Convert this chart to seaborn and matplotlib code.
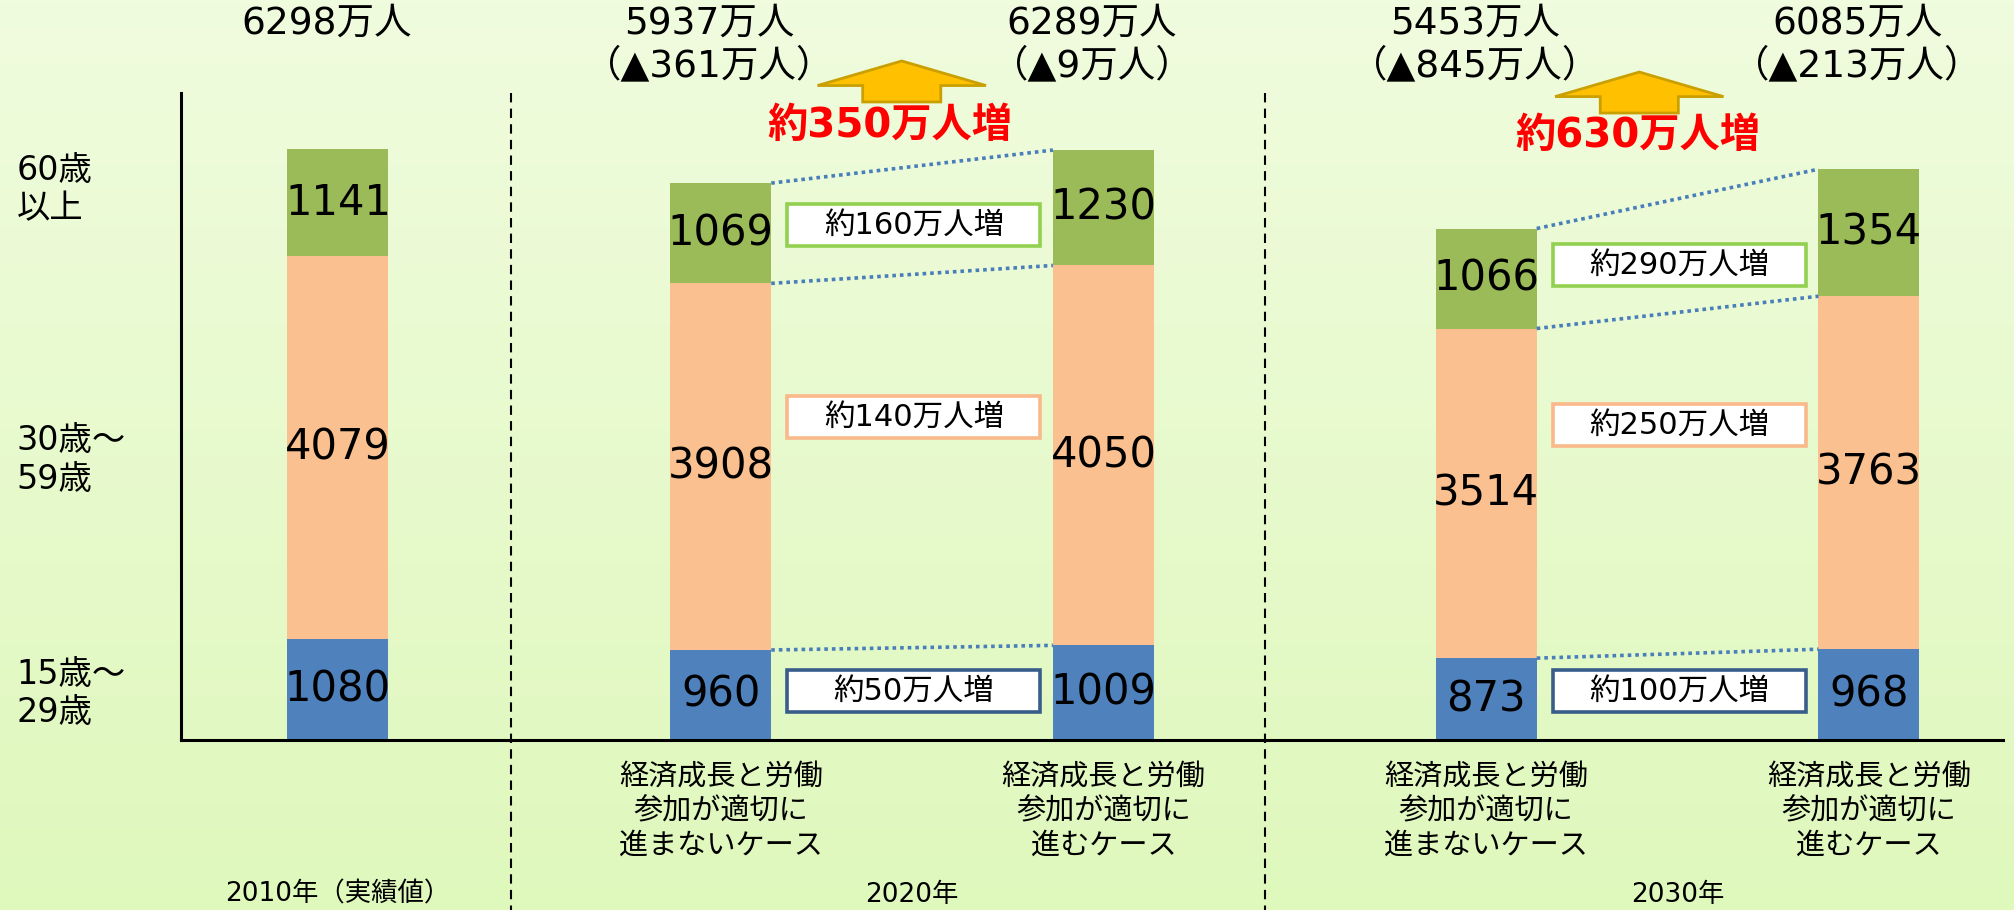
import numpy as np
import pandas as pd
import matplotlib.pyplot as plt
import seaborn as sns
from matplotlib.patches import Rectangle, Polygon
from matplotlib.colors import LinearSegmentedColormap

# labour force by age group (万人), 2010 actual and 2020/2030 scenarios
young = [1080, 960, 1009, 873, 968]       # 15-29
middle = [4079, 3908, 4050, 3514, 3763]   # 30-59
senior = [1141, 1069, 1230, 1066, 1354]   # 60+
totals = ['6298万人', '5937万人', '6289万人', '5453万人', '6085万人']
declines = ['', '（▲361万人）', '（▲9万人）', '（▲845万人）', '（▲213万人）']
case_names = ['',
              '経済成長と労働\n参加が適切に\n進まないケース',
              '経済成長と労働\n参加が適切に\n進むケース',
              '経済成長と労働\n参加が適切に\n進まないケース',
              '経済成長と労働\n参加が適切に\n進むケース']
age_names = ['60歳\n以上', '30歳～\n59歳', '15歳～\n29歳']
year_names = ['2010年（実績値）', '2020年', '2030年']
gain_total = ['約350万人増', '約630万人増']
gain_senior = ['約160万人増', '約290万人増']
gain_middle = ['約140万人増', '約250万人増']
gain_young = ['約50万人増', '約100万人増']

sns.set_style('white')
plt.rcParams['font.family'] = ['DejaVu Sans', 'Noto Sans CJK JP']
plt.rcParams['text.color'] = 'black'

df = pd.DataFrame({'pos': range(5), 'young': young, 'middle': middle, 'senior': senior})
df['mid_top'] = df['young'] + df['middle']
df['top'] = df['mid_top'] + df['senior']

GREEN, ORANGE, BLUE = '#9BBB59', '#FAC090', '#4F81BD'
bw = 0.264

fig = plt.figure(figsize=(20.14, 9.10), dpi=100)

# pale green gradient background
bg = fig.add_axes([0, 0, 1, 1], zorder=-1)
grad = np.linspace(0, 1, 256).reshape(-1, 1)
bg_cmap = LinearSegmentedColormap.from_list('bg', ['#F0FCDE', '#DFF8BC'])
bg.imshow(grad, aspect='auto', cmap=bg_cmap, extent=[0, 1, 0, 1], origin='upper')
bg.axis('off')

ax = fig.add_axes([0, 0, 1, 1])
ax.set_facecolor('none')

# stacked bars by overdrawing cumulative heights
for col, c in [('top', GREEN), ('mid_top', ORANGE), ('young', BLUE)]:
    sns.barplot(data=df, x='pos', y=col, color=c, saturation=1, width=bw,
                linewidth=0, edgecolor='none', ax=ax, zorder=2)

ax.set_xlim(-0.883, 4.379)
ax.set_ylim(-1812, 7889)
ax.set_xticks([])
ax.set_yticks([])
ax.set_xlabel('')
ax.set_ylabel('')
for s in ['top', 'right']:
    ax.spines[s].set_visible(False)
ax.spines['left'].set_position(('data', -0.41))
ax.spines['left'].set_bounds(0, 6900)
ax.spines['bottom'].set_position(('data', 0))
ax.spines['bottom'].set_bounds(-0.41, 4.35)
for s in ['left', 'bottom']:
    ax.spines[s].set_linewidth(2.2)
    ax.spines[s].set_color('black')

# segment values
for i, r in df.iterrows():
    ax.text(i, r['young'] / 2, str(r['young']), ha='center', va='center', fontsize=30, zorder=4)
    ax.text(i, r['young'] + r['middle'] / 2, str(r['middle']), ha='center', va='center', fontsize=30, zorder=4)
    ax.text(i, r['mid_top'] + r['senior'] / 2, str(r['senior']), ha='center', va='center', fontsize=30, zorder=4)

# totals on top
for i in range(5):
    ax.text(i - 0.03, 7640, totals[i], ha='center', va='center', fontsize=27)
    if declines[i]:
        ax.text(i - 0.03, 7186, declines[i], ha='center', va='center', fontsize=27)

# separators between years
for xs in [0.452, 2.422]:
    ax.plot([xs, xs], [6898, -1812], color='black', lw=1.5, ls=(0, (4.5, 3)), zorder=1)

# dotted connectors + gain boxes for the two scenario pairs
box_w, box_h = 0.661, 450
box_y = {'senior': [5490, 5064], 'middle': [3443, 3358], 'young': [522, 522]}
box_edge = {'senior': '#92D050', 'middle': '#F9B98A', 'young': '#385D8A'}
box_text = {'senior': gain_senior, 'middle': gain_middle, 'young': gain_young}
for k, (a, b) in enumerate([(1, 2), (3, 4)]):
    for col in ['young', 'mid_top', 'top']:
        ax.plot([a + bw / 2, b - bw / 2], [df.loc[a, col], df.loc[b, col]],
                color='#4A7EBB', lw=2.6, ls=(0, (1, 1.1)), zorder=3)
    cx = (a + b) / 2 + 0.005
    for key in ['senior', 'middle', 'young']:
        y = box_y[key][k]
        ax.add_patch(Rectangle((cx - box_w / 2, y - box_h / 2), box_w, box_h,
                               facecolor='white', edgecolor=box_edge[key], lw=2.6, zorder=3))
        ax.text(cx, y, box_text[key][k], ha='center', va='center', fontsize=22, zorder=4)

# gold up-arrows and red totals
arrow_x = [1.473, 3.40]
arrow_base = [6802, 6684]
red_xy = [(1.442, 6545), (3.397, 6440)]
for k in range(2):
    x0, y0 = arrow_x[k], arrow_base[k]
    hw, sw = 0.22, 0.102
    shape = [(x0 - sw, y0), (x0 + sw, y0), (x0 + sw, y0 + 175), (x0 + hw, y0 + 175),
             (x0, y0 + 437), (x0 - hw, y0 + 175), (x0 - sw, y0 + 175)]
    ax.add_patch(Polygon(shape, closed=True, facecolor='#FFC000', edgecolor='#C9A000',
                         lw=2, clip_on=False, zorder=3))
    ax.text(red_xy[k][0], red_xy[k][1], gain_total[k], ha='center', va='center',
            fontsize=29, fontweight='bold', color='#FF0000')

# age group labels on the left
age_y = [5870, 2985, 500]
for lab, y in zip(age_names, age_y):
    ax.text(-0.839, y, lab, ha='left', va='center', fontsize=24, linespacing=1.2)

# scenario labels under the bars
for i in range(1, 5):
    ax.text(i, -760, case_names[i], ha='center', va='center', fontsize=21, linespacing=1.3)

for x, lab in zip([0, 1.5, 3.5], year_names):
    ax.text(x, -1650, lab, ha='center', va='center', fontsize=19)

fig.savefig('out.png', dpi=100)
